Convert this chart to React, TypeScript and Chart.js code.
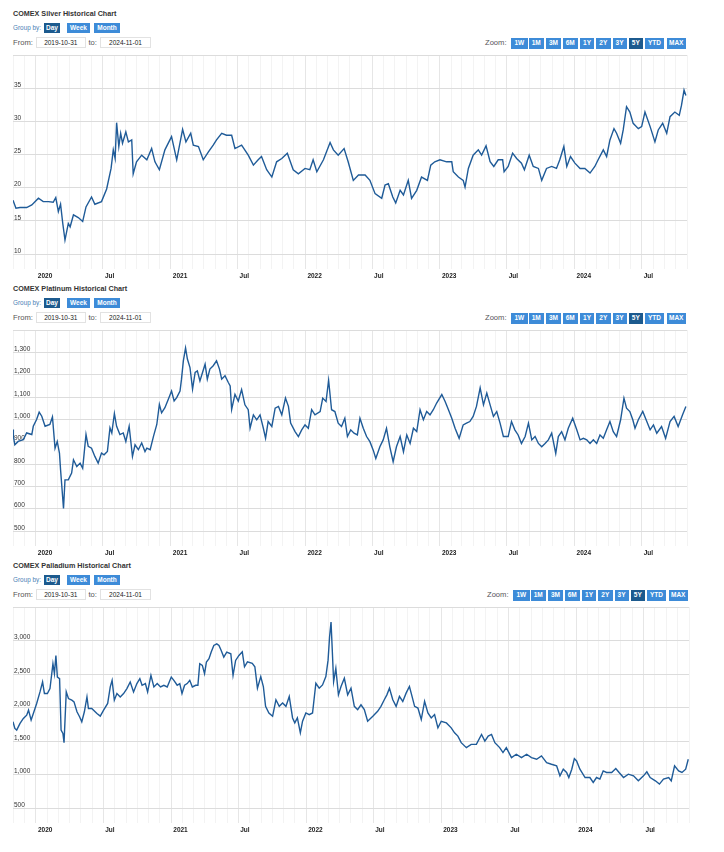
import React, { useEffect, useRef } from "react";
import { Chart, registerables } from "chart.js";

Chart.register(...registerables);

const FONT = "'Liberation Sans', Arial, sans-serif";
const LINE_COLOR = "#1f5b98";
const TOTAL_DAYS = 1828; // 2019-10-31 .. 2024-11-01
const START_UTC = Date.UTC(2019, 9, 31);

// x values are days since 2019-10-31
const silverDays = [
  0, 8, 19, 37, 51, 69, 82, 96, 109, 116,
  123, 129, 135, 141, 150, 155, 164, 177, 189, 198,
  213, 222, 240, 254, 266, 272, 277, 281, 287, 292,
  297, 306, 313, 322, 326, 335, 349, 363, 376, 385,
  397, 412, 430, 444, 460, 469, 482, 489, 503, 516,
  530, 543, 552, 566, 579, 593, 602, 620, 638, 652,
  665, 674, 688, 702, 715, 729, 744, 760, 774, 792,
  805, 814, 824, 842, 860, 869, 882, 898, 909, 923,
  937, 955, 968, 982, 1000, 1009, 1018, 1030, 1038, 1050,
  1059, 1072, 1081, 1095, 1108, 1124, 1133, 1144, 1158, 1176,
  1190, 1194, 1208, 1221, 1226, 1235, 1248, 1262, 1271, 1283,
  1294, 1304, 1316, 1328, 1332, 1343, 1355, 1366, 1379, 1387,
  1400, 1411, 1425, 1434, 1447, 1461, 1474, 1483, 1494, 1502,
  1512, 1524, 1538, 1551, 1565, 1578, 1587, 1601, 1610, 1619,
  1630, 1637, 1648, 1655, 1664, 1673, 1682, 1696, 1705, 1714,
  1728, 1741, 1750, 1762, 1773, 1782, 1795, 1807, 1813, 1820,
  1825,
];
const silverPrices = [
  18.1, 16.9, 17.0, 17.0, 17.4, 18.4, 17.9, 17.9, 17.8, 18.5,
  16.4, 17.5, 14.6, 12.1, 14.6, 14.1, 15.9, 15.5, 14.9, 17.1,
  18.6, 17.5, 17.9, 19.8, 22.9, 25.7, 24.4, 29.8, 26.2, 28.2,
  26.7, 28.4, 26.9, 27.2, 22.1, 23.9, 24.9, 24.2, 25.9, 23.9,
  22.7, 25.7, 27.7, 24.2, 28.8, 26.9, 28.2, 26.4, 26.2, 24.2,
  25.4, 26.4, 27.2, 28.2, 27.9, 27.9, 25.9, 26.4, 24.9, 23.4,
  24.2, 24.7, 22.7, 21.6, 23.9, 24.4, 25.2, 22.7, 22.1, 22.9,
  22.7, 24.2, 22.4, 24.2, 26.8, 25.7, 24.9, 25.9, 23.9, 21.1,
  21.9, 21.9, 21.1, 19.1, 18.4, 20.4, 20.6, 18.6, 17.7, 19.6,
  18.9, 21.1, 18.4, 19.6, 21.6, 21.1, 23.4, 23.9, 24.2, 23.9,
  23.9, 22.4, 21.6, 21.1, 20.1, 22.9, 24.9, 25.7, 24.9, 26.3,
  23.9, 23.2, 24.2, 24.2, 22.4, 23.2, 25.2, 24.4, 23.7, 22.7,
  24.9, 23.2, 22.9, 21.1, 22.9, 23.2, 22.9, 24.2, 26.2, 23.2,
  24.7, 23.7, 22.9, 22.9, 22.2, 23.2, 24.2, 25.7, 24.7, 27.2,
  28.9, 28.2, 26.7, 28.7, 32.2, 31.4, 29.7, 28.9, 29.2, 31.4,
  29.2, 26.9, 28.7, 29.7, 28.2, 30.7, 31.4, 30.9, 32.4, 34.7,
  33.9,
];

const platinumDays = [
  0, 1, 5, 14, 28, 37, 51, 55, 64, 71,
  78, 87, 100, 107, 114, 120, 126, 129, 137, 141,
  150, 159, 164, 173, 182, 189, 198, 204, 213, 222,
  231, 240, 247, 256, 263, 268, 275, 281, 290, 299,
  306, 315, 324, 331, 340, 349, 358, 363, 372, 381,
  390, 397, 403, 412, 421, 430, 437, 444, 453, 457,
  462, 468, 473, 480, 487, 494, 500, 507, 514, 521,
  527, 534, 543, 552, 560, 566, 575, 584, 589, 593,
  602, 611, 620, 629, 638, 643, 652, 661, 670, 679,
  685, 692, 702, 711, 720, 729, 739, 747, 753, 765,
  774, 783, 792, 801, 810, 819, 833, 840, 849, 856,
  864, 873, 882, 891, 900, 907, 916, 925, 934, 941,
  950, 959, 968, 977, 984, 995, 1004, 1013, 1022, 1031,
  1040, 1050, 1059, 1068, 1077, 1086, 1095, 1104, 1113, 1122,
  1131, 1140, 1149, 1163, 1172, 1181, 1190, 1199, 1210, 1221,
  1230, 1239, 1248, 1257, 1267, 1276, 1285, 1294, 1303, 1312,
  1321, 1330, 1343, 1352, 1361, 1370, 1379, 1389, 1398, 1407,
  1416, 1425, 1434, 1443, 1452, 1461, 1472, 1479, 1488, 1497,
  1506, 1518, 1529, 1538, 1547, 1556, 1565, 1574, 1583, 1592,
  1601, 1610, 1619, 1628, 1637, 1648, 1657, 1664, 1673, 1681,
  1687, 1696, 1708, 1719, 1728, 1737, 1746, 1759, 1770, 1782,
  1793, 1804, 1816, 1825,
];
const platinumPrices = [
  954, 924, 886, 901, 909, 939, 932, 969, 999, 1032,
  1014, 969, 977, 1011, 871, 901, 849, 774, 601, 729,
  729, 759, 819, 789, 804, 781, 932, 879, 871, 834,
  804, 849, 841, 856, 962, 939, 1026, 969, 932, 939,
  901, 969, 834, 886, 864, 894, 856, 871, 864, 924,
  977, 1067, 1029, 1052, 1089, 1127, 1082, 1097, 1127, 1180,
  1262, 1320, 1270, 1232, 1135, 1210, 1217, 1172, 1210, 1247,
  1180, 1225, 1240, 1262, 1225, 1180, 1195, 1165, 1150, 1044,
  1112, 1082, 1133, 1065, 1043, 960, 1020, 998, 1020, 960,
  915, 990, 968, 1050, 1058, 1020, 1095, 1058, 983, 945,
  923, 953, 975, 960, 1043, 1020, 1035, 1095, 1080, 1175,
  1043, 1035, 983, 968, 1005, 923, 953, 938, 930, 1005,
  960, 923, 900, 862, 825, 877, 908, 960, 877, 810,
  877, 923, 855, 930, 892, 960, 945, 1043, 998, 1035,
  1020, 1043, 1073, 1111, 1080, 1043, 1005, 960, 915, 975,
  983, 990, 1013, 1058, 1141, 1065, 1118, 1065, 1013, 1035,
  983, 923, 923, 990, 953, 930, 892, 923, 983, 908,
  923, 892, 877, 892, 908, 938, 847, 923, 945, 908,
  960, 1005, 953, 908, 915, 908, 892, 908, 892, 930,
  915, 953, 990, 945, 923, 998, 1095, 1050, 1035, 998,
  960, 998, 1035, 990, 953, 975, 938, 968, 915, 990,
  1013, 968, 1020, 1058,
];

const palladiumDays = [
  0, 5, 10, 19, 28, 37, 42, 49, 55, 64,
  73, 80, 85, 93, 100, 108, 112, 116, 120, 126,
  130, 135, 138, 144, 150, 159, 165, 173, 180, 186,
  193, 200, 204, 213, 227, 236, 245, 256, 263, 268,
  274, 281, 290, 299, 308, 317, 326, 335, 343, 349,
  358, 364, 373, 381, 390, 399, 408, 417, 428, 435,
  444, 451, 457, 464, 471, 478, 485, 494, 500, 505,
  512, 518, 523, 530, 536, 543, 551, 557, 563, 570,
  578, 589, 595, 602, 611, 620, 626, 634, 647, 654,
  661, 670, 677, 683, 692, 702, 711, 720, 729, 738,
  747, 756, 762, 769, 777, 783, 792, 801, 810, 819,
  828, 837, 846, 852, 856, 860, 863, 867, 873, 880,
  887, 896, 905, 914, 923, 932, 941, 950, 959, 973,
  986, 995, 1004, 1011, 1018, 1027, 1036, 1045, 1054, 1063,
  1072, 1078, 1086, 1095, 1104, 1113, 1122, 1131, 1140, 1149,
  1158, 1172, 1185, 1194, 1203, 1212, 1226, 1239, 1253, 1267,
  1276, 1285, 1294, 1303, 1316, 1325, 1334, 1348, 1361, 1375,
  1389, 1402, 1416, 1429, 1443, 1456, 1470, 1479, 1488, 1497,
  1503, 1511, 1518, 1524, 1533, 1547, 1560, 1569, 1578, 1587,
  1596, 1605, 1619, 1630, 1639, 1651, 1664, 1678, 1691, 1705,
  1714, 1723, 1737, 1748, 1759, 1773, 1780, 1789, 1800, 1809,
  1819, 1826,
];
const palladiumPrices = [
  1787, 1688, 1663, 1762, 1837, 1886, 1960, 1812, 1911, 2060,
  2233, 2381, 2208, 2208, 2282, 2653, 2505, 2777, 2455, 2431,
  1663, 1614, 1475, 2233, 2134, 2109, 2084, 1936, 1862, 1787,
  1936, 2158, 1985, 1985, 1911, 1871, 1960, 2060, 2307, 2406,
  2109, 2208, 2158, 2208, 2282, 2381, 2233, 2357, 2431, 2332,
  2357, 2233, 2480, 2307, 2357, 2307, 2332, 2307, 2455, 2406,
  2332, 2357, 2208, 2332, 2357, 2406, 2307, 2332, 2332, 2653,
  2629, 2505, 2678, 2728, 2827, 2926, 2950, 2926, 2851, 2752,
  2827, 2802, 2480, 2703, 2777, 2830, 2608, 2682, 2658, 2608,
  2288, 2461, 2313, 2017, 1918, 1869, 2115, 2017, 2066, 2017,
  2165, 1844, 1770, 1844, 1622, 1795, 1918, 1894, 1918, 2362,
  2288, 2337, 2461, 2707, 3052, 3274, 2904, 2387, 2584, 2189,
  2313, 2436, 2189, 2288, 2017, 1968, 2041, 1968, 1795, 1869,
  1943, 2017, 2115, 2189, 2288, 2115, 2017, 2165, 2091, 2214,
  2313, 2189, 2017, 1992, 1820, 2091, 1918, 1844, 1894, 1696,
  1795, 1770, 1696, 1622, 1573, 1475, 1401, 1450, 1450, 1598,
  1499, 1573, 1598, 1475, 1401, 1327, 1401, 1252, 1302, 1252,
  1302, 1252, 1228, 1277, 1178, 1153, 1129, 980, 1079, 1030,
  955, 1079, 1238, 1203, 1079, 955, 955, 881, 955, 931,
  1054, 1030, 1030, 1089, 1030, 955, 1005, 980, 906, 980,
  1040, 955, 906, 857, 931, 955, 906, 1129, 1054, 1030,
  1079, 1228,
];

const silverTicks = [10, 15, 20, 25, 30, 35, 40];
const platinumTicks = [500, 600, 700, 800, 900, 1000, 1100, 1200, 1300, 1400];
const palladiumTicks = [500, 1000, 1500, 2000, 2500, 3000, 3500];

const groupLabels = ["Day", "Week", "Month"];
const zoomLabels = ["1W", "1M", "3M", "6M", "1Y", "2Y", "3Y", "5Y", "YTD", "MAX"];
const fromDate = "2019-10-31";
const toDate = "2024-11-01";

// month-start ticks (x axis)
type MonthTick = { day: number; label: string; major: boolean };
const monthTicks: MonthTick[] = [];
for (let i = 0; i < 80; i++) {
  const d = new Date(Date.UTC(2019, 10 + i, 1));
  const day = Math.round((d.getTime() - START_UTC) / 86400000);
  if (day > TOTAL_DAYS) break;
  const m = d.getUTCMonth();
  monthTicks.push({
    day,
    label: m === 0 ? String(d.getUTCFullYear()) : m === 6 ? "Jul" : "",
    major: m === 0 || m === 6,
  });
}

const PAD_TOP = 3;
const X_AXIS_H = 30;

type ChartProps = {
  days: number[];
  prices: number[];
  yTicks: number[];
  top: number;
  bottom: number;
  right: number;
};

function PriceChart({ days, prices, yTicks, top, bottom, right }: ChartProps) {
  const ref = useRef<HTMLCanvasElement>(null);
  const height = PAD_TOP + (bottom - top) + X_AXIS_H;
  useEffect(() => {
    const yMin = yTicks[0];
    const yMax = yTicks[yTicks.length - 1];
    const n = Math.min(days.length, prices.length);
    const pts = [];
    for (let i = 0; i < n; i++) pts.push({ x: days[i], y: prices[i] });
    const chart = new Chart(ref.current as HTMLCanvasElement, {
      type: "line",
      data: {
        datasets: [
          {
            data: pts,
            borderColor: LINE_COLOR,
            borderWidth: 1.4,
            pointRadius: 0,
            fill: false,
            tension: 0,
          },
        ],
      },
      options: {
        animation: false,
        responsive: false,
        devicePixelRatio: 1,
        events: [],
        layout: { padding: { left: 13, right: 724 - right, top: PAD_TOP, bottom: 0 } },
        plugins: { legend: { display: false }, tooltip: { enabled: false } },
        scales: {
          x: {
            type: "linear",
            min: 0,
            max: TOTAL_DAYS,
            afterBuildTicks: (s: any) => {
              s.ticks = monthTicks.map((t) => ({ value: t.day }));
            },
            afterFit: (s: any) => {
              s.height = X_AXIS_H;
              s.paddingLeft = 0;
              s.paddingRight = 0;
            },
            grid: {
              color: (ctx: any) => (monthTicks[ctx.index] && monthTicks[ctx.index].major ? "#e6e6e6" : "#f3f3f3"),
              tickLength: 15,
              drawTicks: true,
              lineWidth: 1,
            },
            border: { display: false },
            ticks: {
              autoSkip: false,
              maxRotation: 0,
              minRotation: 0,
              align: "start",
              labelOffset: 2,
              padding: 3,
              color: "#222",
              font: { family: FONT, size: 6.5, weight: "bold" },
              callback: (_v: any, i: number) => (monthTicks[i] ? monthTicks[i].label : ""),
            },
          },
          y: {
            type: "linear",
            min: yMin,
            max: yMax,
            afterBuildTicks: (s: any) => {
              s.ticks = yTicks.map((v) => ({ value: v }));
            },
            afterFit: (s: any) => {
              s.width = 0;
              s.paddingTop = 0;
              s.paddingBottom = 0;
            },
            grid: { color: "#dcdcdc", drawTicks: false, lineWidth: 1 },
            border: { display: false },
            ticks: {
              mirror: true,
              padding: 1,
              labelOffset: -3,
              color: "#333",
              font: { family: FONT, size: 6.5 },
              callback: (v: any) => (v === yMax ? "" : Number(v).toLocaleString("en-US")),
            },
          },
        },
      },
    } as any);
    return () => chart.destroy();
  }, []);
  return (
    <canvas
      ref={ref}
      width={724}
      height={height}
      style={{ position: "absolute", left: 0, top: top - PAD_TOP, width: 724, height, display: "block" }}
    />
  );
}

const zoomLefts = [511, 528.5, 546, 563, 580, 596, 612.5, 628.5, 645, 666.5];
const zoomWidths = [16.5, 15.5, 15, 14.5, 14, 14.5, 14, 14.5, 19, 19.5];
const groupLefts = [44, 67, 94];
const groupWidths = [16, 23, 26];

function Btn({ left, top, width, height, text, dark }: any) {
  return (
    <div
      style={{
        position: "absolute",
        left,
        top,
        width,
        height,
        lineHeight: height + "px",
        background: dark ? "#1c5a8e" : "#3d8bd8",
        color: "#fff",
        fontWeight: "bold",
        fontSize: 6.5,
        textAlign: "center",
        fontFamily: FONT,
        whiteSpace: "nowrap",
      }}
    >
      {text}
    </div>
  );
}

function Header({ title, top, shift }: { title: string; top: number; shift: number }) {
  const txt = (left: number, t: number, h: number, size: number, color: string, s: string, bold = false) => (
    <div
      style={{
        position: "absolute",
        left,
        top: t,
        height: h,
        lineHeight: h + "px",
        fontSize: size,
        color,
        fontWeight: bold ? "bold" : "normal",
        fontFamily: FONT,
        whiteSpace: "nowrap",
      }}
    >
      {s}
    </div>
  );
  const box = (left: number, width: number, s: string) => (
    <div
      style={{
        position: "absolute",
        left,
        top: top - 18.5,
        width,
        height: 11.5,
        boxSizing: "border-box",
        border: "1px solid #e2e2e2",
        background: "#fff",
        lineHeight: "9.5px",
        fontSize: 6.5,
        color: "#222",
        textAlign: "center",
        fontFamily: FONT,
      }}
    >
      {s}
    </div>
  );
  return (
    <>
      {txt(13, top - 46, 10, 7.2, "#333", title, true)}
      {txt(13, top - 32, 10, 6.4, "#4a7fb5", "Group by:")}
      {groupLabels.map((g, i) => (
        <Btn key={g} left={groupLefts[i]} top={top - 32} width={groupWidths[i]} height={10} text={g} dark={i === 0} />
      ))}
      {txt(13, top - 18.5, 11.5, 7.6, "#555", "From:")}
      {box(35.5, 50.5, fromDate)}
      {txt(88.5, top - 18.5, 11.5, 7.6, "#555", "to:")}
      {box(100, 51, toDate)}
      {txt(485 + shift, top - 16.7, 10.7, 7.6, "#555", "Zoom:")}
      {zoomLabels.map((z, i) => (
        <Btn
          key={z}
          left={zoomLefts[i] + shift}
          top={top - 16.7}
          width={zoomWidths[i]}
          height={10.7}
          text={z}
          dark={z === "5Y"}
        />
      ))}
    </>
  );
}

export default function App() {
  return (
    <div style={{ position: "absolute", left: 0, top: 0, width: 724, height: 852, background: "#fff", overflow: "hidden" }}>
      <Header title="COMEX Silver Historical Chart" top={55} shift={0} />
      <PriceChart days={silverDays} prices={silverPrices} yTicks={silverTicks} top={55} bottom={254} right={687} />
      <Header title="COMEX Platinum Historical Chart" top={330} shift={0} />
      <PriceChart days={platinumDays} prices={platinumPrices} yTicks={platinumTicks} top={330} bottom={531} right={687} />
      <Header title="COMEX Palladium Historical Chart" top={607} shift={2} />
      <PriceChart days={palladiumDays} prices={palladiumPrices} yTicks={palladiumTicks} top={607} bottom={808} right={689} />
    </div>
  );
}
